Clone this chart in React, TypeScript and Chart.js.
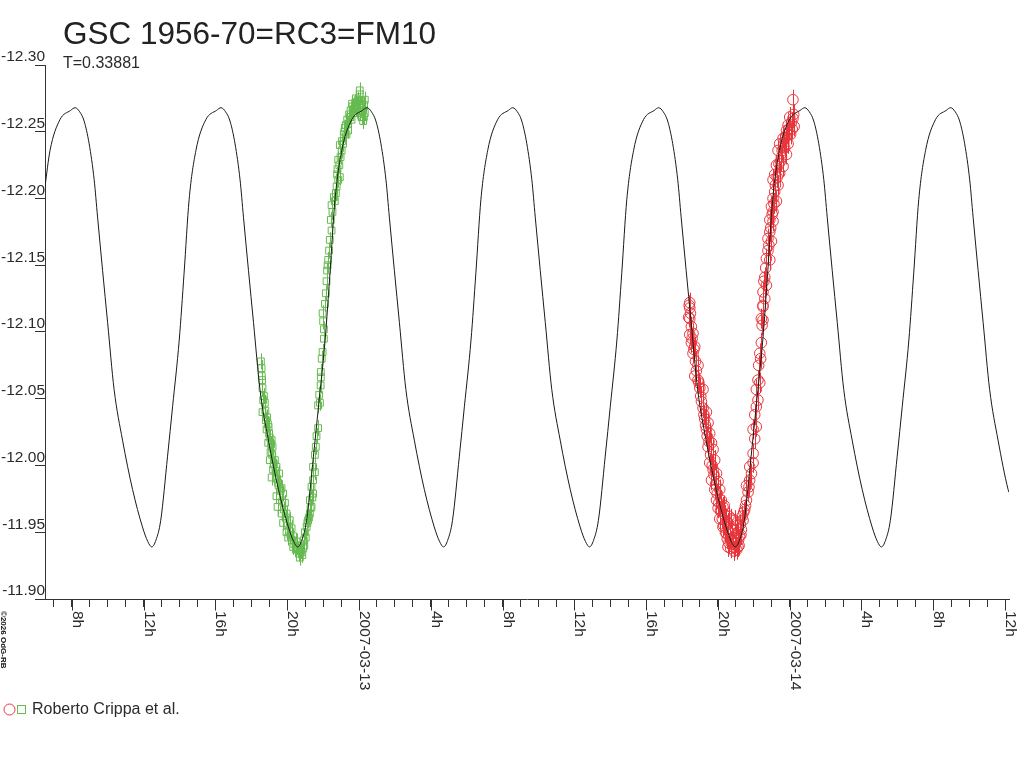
import React, { useEffect, useRef } from "react";
import { Chart, registerables } from "chart.js";

Chart.register(...registerables);

// ---------- text ----------
const titleText = "GSC 1956-70=RC3=FM10";
const subtitleText = "T=0.33881";
const legendText = "Roberto Crippa et al.";
const creditText = "©2026 OdG-RB";

// ---------- axes (hours relative to 2007-03-13 00h, magnitudes) ----------
const xMin = -17.5;
const xMax = 36.22;
const xAxisStart = -18;
const yMin = -12.3;
const yMax = -11.9;
const yStep = 0.05;
const xTickHours = [-16, -12, -8, -4, 0, 4, 8, 12, 16, 20, 24, 28, 32, 36];
const xTickLabels = ["8h", "12h", "16h", "20h", "2007-03-13", "4h", "8h", "12h", "16h", "20h", "2007-03-14", "4h", "8h", "12h"];

// ---------- fitted light curve (hour, mag) ----------
const modelCurve: [number, number][] = [
  [-17.5, -12.209], [-17.22, -12.236], [-16.67, -12.259], [-16.07, -12.266],
  [-15.82, -12.268], [-15.57, -12.265], [-15.32, -12.258], [-15.04, -12.241], [-14.76, -12.214], [-14.57, -12.186], [-14.29, -12.146], [-14.01, -12.107], [-13.65, -12.057], [-13.18, -12.019], [-12.62, -11.982], [-12.07, -11.954], [-11.77, -11.943], [-11.55, -11.939], [-11.32, -11.944], [-11.05, -11.959], [-10.67, -12.007], [-10.39, -12.044], [-10.02, -12.094], [-9.75, -12.144], [-9.47, -12.199], [-9.09, -12.236], [-8.54, -12.259], [-7.94, -12.266],
  [-7.69, -12.268], [-7.44, -12.265], [-7.19, -12.258], [-6.91, -12.241], [-6.63, -12.214], [-6.44, -12.186], [-6.16, -12.146], [-5.88, -12.107], [-5.52, -12.057], [-5.05, -12.019], [-4.49, -11.982], [-3.94, -11.954], [-3.64, -11.943], [-3.42, -11.939], [-3.19, -11.944], [-2.92, -11.959], [-2.54, -12.007], [-2.26, -12.044], [-1.89, -12.094], [-1.62, -12.144], [-1.34, -12.199], [-0.96, -12.236], [-0.41, -12.259], [0.19, -12.266],
  [0.44, -12.268], [0.69, -12.265], [0.94, -12.258], [1.22, -12.241], [1.5, -12.214], [1.69, -12.186], [1.97, -12.146], [2.25, -12.107], [2.61, -12.057], [3.08, -12.019], [3.64, -11.982], [4.19, -11.954], [4.49, -11.943], [4.71, -11.939], [4.94, -11.944], [5.21, -11.959], [5.59, -12.007], [5.87, -12.044], [6.24, -12.094], [6.51, -12.144], [6.79, -12.199], [7.17, -12.236], [7.72, -12.259], [8.32, -12.266],
  [8.57, -12.268], [8.82, -12.265], [9.07, -12.258], [9.35, -12.241], [9.63, -12.214], [9.82, -12.186], [10.1, -12.146], [10.38, -12.107], [10.74, -12.057], [11.21, -12.019], [11.77, -11.982], [12.32, -11.954], [12.62, -11.943], [12.84, -11.939], [13.07, -11.944], [13.34, -11.959], [13.72, -12.007], [14.0, -12.044], [14.37, -12.094], [14.64, -12.144], [14.92, -12.199], [15.3, -12.236], [15.85, -12.259], [16.45, -12.266],
  [16.7, -12.268], [16.95, -12.265], [17.2, -12.258], [17.48, -12.241], [17.76, -12.214], [17.95, -12.186], [18.23, -12.146], [18.51, -12.107], [18.87, -12.057], [19.34, -12.019], [19.9, -11.982], [20.45, -11.954], [20.75, -11.943], [20.97, -11.939], [21.2, -11.944], [21.47, -11.959], [21.85, -12.007], [22.13, -12.044], [22.5, -12.094], [22.77, -12.144], [23.05, -12.199], [23.43, -12.236], [23.98, -12.259], [24.58, -12.266],
  [24.84, -12.268], [25.09, -12.265], [25.34, -12.258], [25.62, -12.241], [25.9, -12.214], [26.09, -12.186], [26.37, -12.146], [26.65, -12.107], [27.01, -12.057], [27.48, -12.019], [28.04, -11.982], [28.59, -11.954], [28.89, -11.943], [29.11, -11.939], [29.34, -11.944], [29.61, -11.959], [29.99, -12.007], [30.27, -12.044], [30.64, -12.094], [30.91, -12.144], [31.19, -12.199], [31.57, -12.236], [32.12, -12.259], [32.72, -12.266],
  [32.97, -12.268], [33.22, -12.265], [33.47, -12.258], [33.75, -12.241], [34.03, -12.214], [34.22, -12.186], [34.5, -12.146], [34.78, -12.107], [35.14, -12.057], [35.61, -12.019], [36.17, -11.982], [36.22, -11.98],
];

// ---------- observations, night of 2007-03-12/13 (green squares) ----------
const greenObs: [number, number][] = [
  [-5.47, -12.078], [-5.43, -12.073], [-5.42, -12.067], [-5.38, -12.058], [-5.34, -12.049], [-5.25, -12.047], [-5.38, -12.04], [-5.19, -12.034], [-5.08, -12.031], [-5.15, -12.027],
  [-5.01, -12.024], [-5.06, -12.017], [-4.87, -12.019], [-4.93, -12.01], [-4.82, -12.014], [-4.97, -12.004], [-4.69, -12.004], [-4.79, -11.997], [-4.6, -11.999], [-4.87, -11.991],
  [-4.45, -11.994], [-4.51, -11.987], [-4.32, -11.983], [-4.6, -11.977], [-4.41, -11.977], [-4.23, -11.979], [-4.54, -11.969], [-4.13, -11.972], [-4.32, -11.964], [-4.04, -11.964],
  [-4.23, -11.957], [-3.86, -11.959], [-4.04, -11.95], [-3.76, -11.953], [-3.95, -11.946], [-3.67, -11.947], [-3.67, -11.939], [-3.48, -11.943], [-3.39, -11.937], [-3.2, -11.935],
  [-3.11, -11.938], [-3.3, -11.931], [-3.08, -11.944], [-3.02, -11.95], [-2.92, -11.954], [-2.84, -11.959], [-2.74, -11.964], [-2.65, -11.969], [-2.74, -11.974], [-2.56, -11.979],
  [-2.65, -11.984], [-2.56, -11.989], [-2.46, -11.995], [-2.56, -11.999], [-2.46, -12.008], [-2.41, -12.014], [-2.37, -12.022], [-2.28, -12.028], [-2.28, -12.045], [-2.18, -12.047],
  [-2.22, -12.053], [-2.14, -12.06], [-2.13, -12.066], [-2.13, -12.07], [-2.03, -12.085], [-1.96, -12.095], [-1.96, -12.102], [-2.0, -12.108], [-2.03, -12.114], [-1.85, -12.129],
  [-1.81, -12.138], [-1.78, -12.146], [-1.72, -12.154], [-1.67, -12.161], [-1.63, -12.169], [-1.53, -12.176], [-1.57, -12.184], [-1.48, -12.19], [-1.53, -12.195], [-1.35, -12.198],
  [-1.29, -12.204], [-1.25, -12.209], [-1.16, -12.214], [-1.22, -12.218], [-1.07, -12.216], [-1.16, -12.229], [-1.03, -12.231], [-0.97, -12.236], [-1.07, -12.24], [-0.89, -12.241],
  [-0.85, -12.248], [-0.7, -12.248], [-0.79, -12.253], [-0.61, -12.251], [-0.61, -12.256], [-0.51, -12.261], [-0.42, -12.259], [-0.33, -12.264], [-0.36, -12.269], [-0.23, -12.27],
  [-0.14, -12.266], [-0.18, -12.275], [-0.05, -12.274], [0.04, -12.278], [0.14, -12.271], [0.23, -12.266], [0.32, -12.264], [0.32, -12.274], [0.04, -12.281], [0.27, -12.261],
  [0.23, -12.258], [0.14, -12.261], [-0.05, -12.264],
  [-5.4, -12.064], [-5.3, -12.052], [-5.22, -12.041], [-5.12, -12.036], [-5.04, -12.029], [-4.98, -12.021], [-4.9, -12.016], [-4.84, -12.008], [-4.75, -12.001], [-4.66, -11.996],
  [-4.57, -11.99], [-4.48, -11.985], [-4.38, -11.981], [-4.28, -11.973], [-4.18, -11.967], [-4.09, -11.961], [-3.98, -11.955], [-3.9, -11.951], [-3.82, -11.948], [-3.72, -11.944],
  [-3.6, -11.941], [-3.52, -11.937], [-3.44, -11.94], [-3.35, -11.934], [-3.26, -11.936], [-3.16, -11.933], [-3.05, -11.94], [-2.97, -11.946], [-2.88, -11.957], [-2.79, -11.961],
  [-2.7, -11.968], [-2.6, -11.976], [-0.95, -12.243], [-0.82, -12.25], [-0.74, -12.255], [-0.66, -12.259], [-0.55, -12.263], [-0.47, -12.266], [-0.39, -12.271], [-0.28, -12.267],
  [-0.2, -12.272], [-0.1, -12.27], [0.0, -12.268], [0.08, -12.273], [0.18, -12.268], [0.28, -12.27], [-1.4, -12.201], [-1.2, -12.222], [-1.1, -12.225], [-1.75, -12.15],
  [-1.9, -12.121], [-2.08, -12.08],
];

// ---------- observations, night of 2007-03-13/14 (red circles) ----------
const redObs: [number, number][] = [
  [18.43, -12.122], [18.43, -12.118], [18.43, -12.11], [18.4, -12.12], [18.37, -12.111], [18.52, -12.104], [18.43, -12.098], [18.61, -12.099], [18.52, -12.092], [18.71, -12.089],
  [18.61, -12.084], [18.75, -12.078], [18.89, -12.075], [18.71, -12.067], [18.89, -12.064], [18.99, -12.058], [19.17, -12.057], [19.04, -12.052], [19.17, -12.043], [19.36, -12.04],
  [19.26, -12.035], [19.45, -12.032], [19.36, -12.027], [19.54, -12.024], [19.64, -12.017], [19.45, -12.014], [19.73, -12.012], [19.54, -12.002], [19.82, -12.004], [19.73, -11.997],
  [19.92, -11.994], [19.64, -11.989], [20.01, -11.988], [19.82, -11.982], [20.1, -11.982], [19.92, -11.974], [20.19, -11.974], [20.01, -11.968], [20.28, -11.969], [20.1, -11.96],
  [20.38, -11.963], [20.28, -11.954], [20.56, -11.957], [20.47, -11.949], [20.66, -11.95], [20.56, -11.939], [20.84, -11.944], [20.94, -11.939], [21.12, -11.939], [20.75, -11.96],
  [21.03, -11.949], [21.21, -11.947], [20.94, -11.959], [20.7, -11.945], [20.8, -11.952], [20.88, -11.936], [21.0, -11.942], [21.05, -11.955], [20.62, -11.962], [21.15, -11.944],
  [21.25, -11.956], [20.45, -11.958], [20.35, -11.97], [20.2, -11.966], [21.35, -11.962], [21.05, -11.937],
  [21.31, -11.952], [21.4, -11.959], [21.49, -11.967], [21.59, -11.974], [21.68, -11.98], [21.59, -11.985], [21.77, -11.989], [21.87, -11.994], [21.77, -11.999], [21.96, -12.002],
  [21.96, -12.009], [22.05, -12.02], [21.96, -12.027], [22.14, -12.029], [22.05, -12.038], [22.14, -12.044], [22.23, -12.049], [22.14, -12.057], [22.33, -12.062], [22.23, -12.064],
  [22.27, -12.075], [22.38, -12.08], [22.33, -12.084], [22.42, -12.092], [22.46, -12.105], [22.51, -12.109], [22.51, -12.12], [22.42, -12.11], [22.51, -12.119], [22.61, -12.125],
  [22.51, -12.13], [22.7, -12.135], [22.61, -12.141], [22.89, -12.154], [22.7, -12.155], [22.79, -12.161], [22.98, -12.168], [22.79, -12.17], [22.89, -12.175], [23.07, -12.183],
  [22.89, -12.184], [23.07, -12.19], [22.98, -12.194], [23.26, -12.198], [23.07, -12.2], [23.16, -12.205], [23.35, -12.21], [23.07, -12.214], [23.44, -12.219], [23.16, -12.218],
  [23.63, -12.224], [23.26, -12.225], [23.54, -12.231], [23.82, -12.233], [23.35, -12.236], [23.72, -12.238], [23.44, -12.241], [23.91, -12.241], [23.63, -12.245], [24.05, -12.248],
  [23.82, -12.251], [24.25, -12.254], [23.91, -12.255], [24.18, -12.26], [24.0, -12.261], [24.18, -12.274],
  [18.47, -12.114], [18.56, -12.095], [18.66, -12.087], [18.8, -12.071], [18.94, -12.062], [19.08, -12.048], [19.22, -12.038], [19.31, -12.03], [19.4, -12.022], [19.5, -12.018],
  [19.59, -12.008], [19.68, -12.0], [19.78, -11.993], [19.87, -11.986], [19.96, -11.979], [20.05, -11.972], [20.14, -11.966], [20.24, -11.96], [20.33, -11.955], [20.42, -11.95],
  [20.52, -11.945], [20.61, -11.942], [20.71, -11.938], [20.98, -11.946], [21.1, -11.95], [21.18, -11.94], [21.28, -11.948], [21.44, -11.965], [21.54, -11.97], [21.73, -11.984],
  [22.56, -12.138], [22.66, -12.148], [22.84, -12.165], [22.94, -12.178], [23.02, -12.188], [23.12, -12.196], [23.2, -12.21], [23.3, -12.216], [23.4, -12.226], [23.49, -12.228],
  [23.58, -12.236], [23.68, -12.242], [23.78, -12.246], [23.87, -12.248], [23.96, -12.252], [24.1, -12.257], [24.14, -12.252], [24.22, -12.263],
];

const greenErr = 0.006;
const redErr = 0.0075;

// ---------- style ----------
const FONT = "'Liberation Sans', Arial, sans-serif";
const TEXT = "#2b2b2b";
const AXIS = "#333333";
const CURVE = "#1a1a1a";
const GREEN = "#66bb50";
const RED = "#e8353c";

const decorPlugin = {
  id: "decor",
  beforeDatasetsDraw(chart: any) {
    const { ctx, chartArea, scales } = chart;
    const x = scales.x;
    const y = scales.y;
    ctx.save();
    ctx.beginPath();
    ctx.rect(chartArea.left, chartArea.top, chartArea.right - chartArea.left, chartArea.bottom - chartArea.top);
    ctx.clip();
    ctx.lineWidth = 1;
    const groups: [[number, number][], number, string][] = [
      [redObs, redErr, RED],
      [greenObs, greenErr, GREEN],
    ];
    for (const [obs, err, col] of groups) {
      ctx.strokeStyle = col;
      ctx.beginPath();
      for (const [h, m] of obs) {
        const px = Math.round(x.getPixelForValue(h)) + 0.5;
        ctx.moveTo(px, y.getPixelForValue(m - err));
        ctx.lineTo(px, y.getPixelForValue(m + err));
      }
      ctx.stroke();
    }
    ctx.restore();
  },
  afterDraw(chart: any) {
    const { ctx, chartArea, scales } = chart;
    const x = scales.x;
    ctx.save();
    ctx.strokeStyle = AXIS;
    ctx.lineWidth = 1;
    const yb = Math.round(chartArea.bottom) + 0.5;
    // axis line continues a little left of the y axis
    ctx.beginPath();
    ctx.moveTo(Math.round(x.getPixelForValue(xAxisStart)), yb);
    ctx.lineTo(chartArea.left, yb);
    ctx.stroke();

    // major ticks and rotated labels
    ctx.fillStyle = TEXT;
    ctx.font = `15.5px ${FONT}`;
    xTickHours.forEach((h, i) => {
      const px = Math.round(x.getPixelForValue(h)) + 0.5;
      ctx.beginPath();
      ctx.moveTo(px, yb);
      ctx.lineTo(px, yb + 11);
      ctx.stroke();
      ctx.save();
      ctx.translate(px, chartArea.bottom + 12);
      ctx.rotate(Math.PI / 2);
      ctx.textAlign = "left";
      ctx.textBaseline = "alphabetic";
      ctx.fillText(xTickLabels[i], 0, 0);
      ctx.restore();
    });

    // title + period
    ctx.textAlign = "left";
    ctx.textBaseline = "alphabetic";
    ctx.fillStyle = "#222222";
    ctx.font = `31.5px ${FONT}`;
    ctx.fillText(titleText, 63, 44);
    ctx.fillStyle = TEXT;
    ctx.font = `16px ${FONT}`;
    ctx.fillText(subtitleText, 63, 68);

    // legend
    ctx.lineWidth = 1;
    ctx.strokeStyle = RED;
    ctx.beginPath();
    ctx.arc(9.5, 709.5, 5.5, 0, Math.PI * 2);
    ctx.stroke();
    ctx.strokeStyle = GREEN;
    ctx.strokeRect(17.5, 705.5, 8, 8);
    ctx.fillStyle = TEXT;
    ctx.font = `16px ${FONT}`;
    ctx.fillText(legendText, 32, 714);

    // credit
    ctx.save();
    ctx.translate(1, 611);
    ctx.rotate(Math.PI / 2);
    ctx.fillStyle = "#111111";
    ctx.font = `bold 8px ${FONT}`;
    ctx.fillText(creditText, 0, 0);
    ctx.restore();

    ctx.restore();
  },
};

export default function App() {
  const canvasRef = useRef<HTMLCanvasElement | null>(null);

  useEffect(() => {
    if (!canvasRef.current) return;
    const chart = new Chart(canvasRef.current, {
      type: "scatter",
      data: {
        datasets: [
          {
            label: "model",
            data: modelCurve.map(([h, m]) => ({ x: h, y: m })),
            showLine: true,
            borderColor: CURVE,
            borderWidth: 1,
            pointRadius: 0,
            pointHoverRadius: 0,
            cubicInterpolationMode: "monotone",
            fill: false,
          },
          {
            label: legendText,
            data: greenObs.map(([h, m]) => ({ x: h, y: m })),
            pointStyle: "rect",
            pointRadius: 4.8,
            borderColor: GREEN,
            backgroundColor: "rgba(0,0,0,0)",
            borderWidth: 1,
            showLine: false,
          },
          {
            label: legendText,
            data: redObs.map(([h, m]) => ({ x: h, y: m })),
            pointStyle: "circle",
            pointRadius: 5.3,
            borderColor: RED,
            backgroundColor: "rgba(0,0,0,0)",
            borderWidth: 1,
            showLine: false,
          },
        ],
      },
      options: {
        animation: false,
        responsive: false,
        devicePixelRatio: 1,
        events: [],
        layout: { padding: { top: 65, right: 15, left: 0, bottom: 0 } },
        plugins: {
          legend: { display: false },
          tooltip: { enabled: false },
          title: { display: false },
        },
        scales: {
          x: {
            type: "linear",
            position: "bottom",
            min: xMin,
            max: xMax,
            afterFit: (s: any) => {
              s.height = 169;
            },
            ticks: { stepSize: 1, includeBounds: false, display: false, autoSkip: false },
            grid: { drawOnChartArea: false, drawTicks: true, tickLength: 8, color: AXIS, lineWidth: 1 },
            border: { display: true, color: AXIS, width: 1 },
          },
          y: {
            type: "linear",
            position: "left",
            reverse: true,
            min: yMin,
            max: yMax,
            afterFit: (s: any) => {
              s.width = 45;
            },
            ticks: {
              stepSize: yStep,
              callback: (v: any) => Number(v).toFixed(2),
              font: { family: FONT, size: 15.5 },
              color: TEXT,
              padding: -10,
              labelOffset: -8,
              autoSkip: false,
            },
            grid: { drawOnChartArea: false, drawTicks: true, tickLength: 10, color: AXIS, lineWidth: 1 },
            border: { display: true, color: AXIS, width: 1 },
          },
        },
      },
      plugins: [decorPlugin],
    } as any);
    return () => chart.destroy();
  }, []);

  return (
    <div style={{ position: "absolute", left: 0, top: 0, width: 1024, height: 768, background: "#ffffff" }}>
      <canvas ref={canvasRef} width={1024} height={768} style={{ display: "block" }} />
    </div>
  );
}
